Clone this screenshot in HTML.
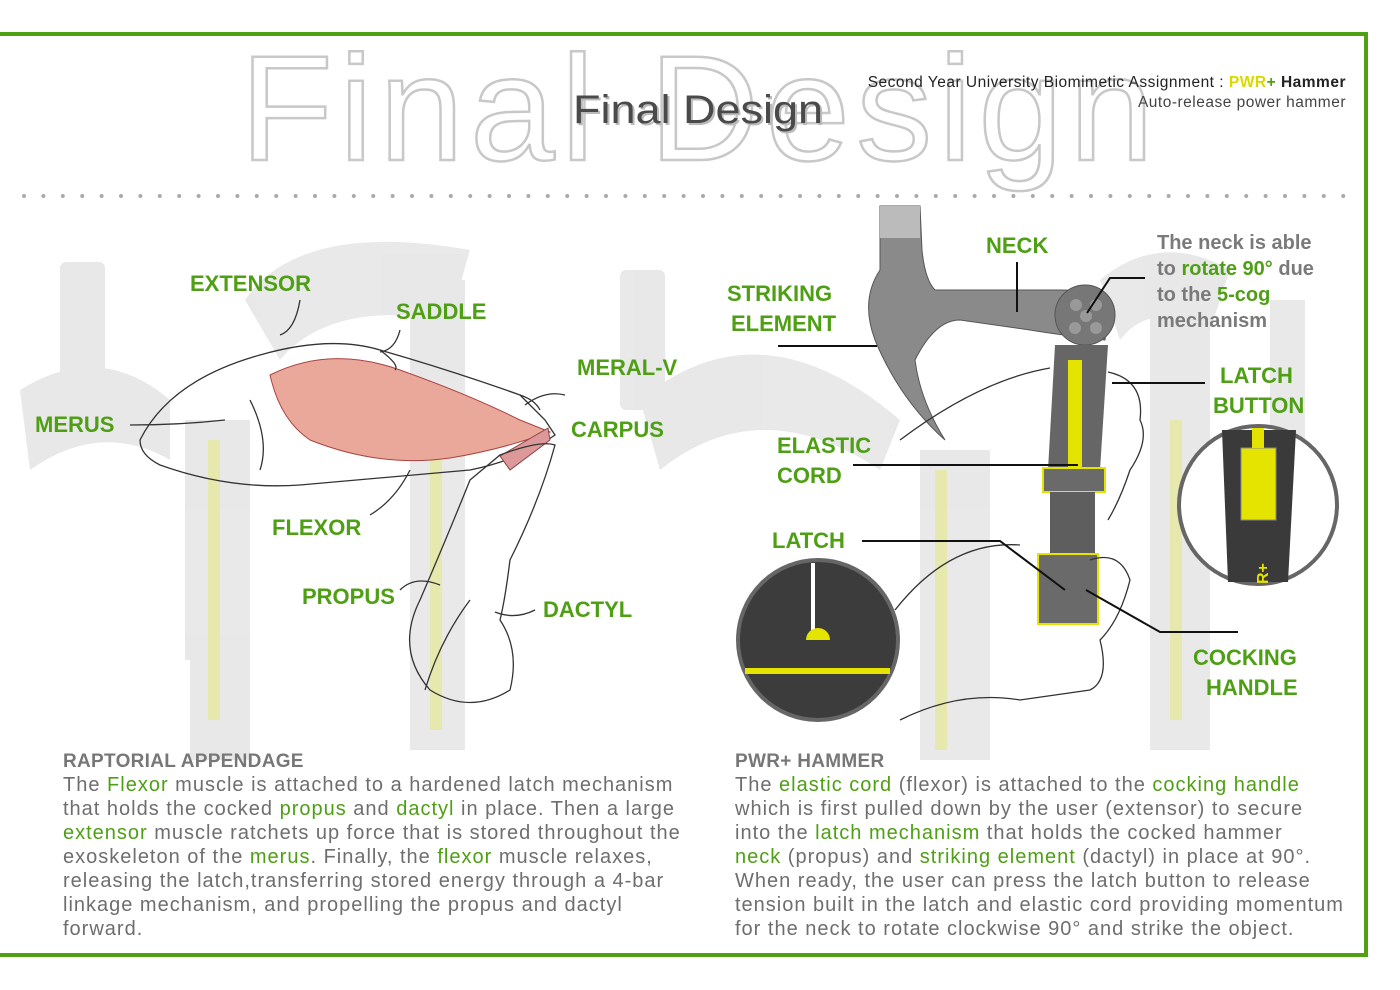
<!DOCTYPE html>
<html><head><meta charset="utf-8"><style>
html,body{margin:0;padding:0;background:#fff;width:1400px;height:990px;overflow:hidden}
svg{display:block}
.g{fill:#4e9f14;font-family:"Liberation Sans",sans-serif;font-weight:bold;font-size:22px}
.b{fill:#6e6e6e;font-family:"Liberation Sans",sans-serif;font-size:20px;letter-spacing:1px}
.b tspan.k{fill:#4e9f14}
.h{fill:#777;font-family:"Liberation Sans",sans-serif;font-weight:bold;font-size:19px;letter-spacing:0.3px}
.n{fill:#7a7a7a;font-family:"Liberation Sans",sans-serif;font-weight:bold;font-size:20px}
.n tspan.k{fill:#4e9f14}
.ln{stroke:#111;stroke-width:2;fill:none}
.sk{stroke:#333;stroke-width:1.3;fill:none}
</style></head><body>
<svg width="1400" height="990" viewBox="0 0 1400 990">
<g opacity="0.16" fill="#777">
<rect x="60" y="262" width="45" height="150" rx="6"/>
<path d="M20 390 Q100 340 170 400 L170 460 Q100 420 30 470Z"/>
<rect x="185" y="420" width="65" height="240"/>
<rect x="190" y="650" width="60" height="110"/>
<path d="M245 300 Q300 220 470 250 L450 320 Q330 300 280 360Z"/>
<rect x="410" y="280" width="55" height="470"/>
<rect x="620" y="270" width="45" height="140" rx="6"/>
<path d="M640 400 Q760 300 900 420 L880 470 Q760 390 660 470Z"/>
<rect x="920" y="450" width="70" height="310"/>
<path d="M1100 280 Q1160 230 1230 270 L1210 330 Q1150 300 1120 340Z"/>
<rect x="1150" y="300" width="60" height="450"/>
<rect x="1270" y="300" width="35" height="260"/>
</g>
<g opacity="0.25" fill="#e3e800">
<rect x="208" y="440" width="12" height="280"/>
<rect x="430" y="400" width="12" height="330"/>
<rect x="935" y="470" width="12" height="280"/>
<rect x="1170" y="420" width="12" height="300"/>
</g>
<path d="M0 34 H1366 V955 H0" fill="none" stroke="#4fa012" stroke-width="4"/>
<text x="240" y="160" font-family="Liberation Sans,sans-serif" font-size="150" fill="#fff" stroke="#c8c8c8" stroke-width="2.5" letter-spacing="6" textLength="920" lengthAdjust="spacingAndGlyphs">Final Design</text>
<text x="575" y="125" font-family="Liberation Sans,sans-serif" font-size="40" fill="#bbb" textLength="250" lengthAdjust="spacingAndGlyphs">Final Design</text>
<text x="573" y="123" font-family="Liberation Sans,sans-serif" font-size="40" fill="#4a4a4a" textLength="250" lengthAdjust="spacingAndGlyphs">Final Design</text>
<text x="1346" y="87" text-anchor="end" font-family="Liberation Sans,sans-serif" font-size="15.5" fill="#222" letter-spacing="0.5">Second Year University Biomimetic Assignment : <tspan font-weight="bold" fill="#d9d900">PWR</tspan><tspan font-weight="bold" fill="#4fa012">+</tspan><tspan font-weight="bold"> Hammer</tspan></text>
<text x="1346" y="107" text-anchor="end" font-family="Liberation Sans,sans-serif" font-size="15.5" fill="#444" letter-spacing="0.5">Auto-release power hammer</text>
<line x1="24" y1="196" x2="1346" y2="196" stroke="#aaa" stroke-width="4" stroke-linecap="round" stroke-dasharray="0 19.4"/>
<path class="sk" fill="#fff" d="M140 440 Q170 380 260 355 Q330 335 380 350 Q450 370 520 395 L545 420 L555 435 Q520 460 470 470 Q380 478 300 485 Q230 490 160 465 Q140 455 140 440Z"/>
<path d="M270 375 Q330 345 400 370 Q470 395 520 420 L550 432 Q500 450 450 458 Q380 468 310 440 Q280 420 270 375Z" fill="#e9a89a" stroke="#a44" stroke-width="1"/>
<path class="sk" d="M250 400 Q270 440 260 470 M380 350 Q400 365 395 370 M520 395 Q535 400 540 410"/>
<path d="M500 456 L548 428 L550 440 L510 470Z" fill="#d99" stroke="#844"/>
<path class="sk" fill="#fff" d="M500 455 Q540 440 555 445 Q540 500 510 560 Q505 600 500 620 Q520 650 510 690 Q470 715 430 690 Q395 650 420 600 Q450 530 470 480Z"/>
<path class="sk" d="M425 690 Q440 640 470 600 M300 300 Q295 330 280 335 M400 330 Q395 350 380 352 M565 395 Q545 390 525 405 M225 420 Q180 425 130 425 M410 470 Q395 500 370 515 M440 585 Q415 575 400 590 M535 610 Q515 620 495 612"/>
<path d="M880 206 L920 206 L922 250 Q925 280 935 290 L1060 290 Q1095 290 1110 300 L1105 340 Q1060 335 1030 330 L960 320 Q935 320 915 360 Q920 400 945 440 Q900 400 875 340 Q860 300 880 270Z" fill="#8a8a8a" stroke="#555"/>
<path d="M880 206 H920 V238 H880Z" fill="#bbb"/>
<circle cx="1085" cy="315" r="30" fill="#777" stroke="#555"/>
<g fill="#999"><circle cx="1076" cy="305" r="6"/><circle cx="1096" cy="305" r="6"/><circle cx="1086" cy="316" r="6"/><circle cx="1075" cy="328" r="6"/><circle cx="1096" cy="328" r="6"/></g>
<path d="M1055 345 L1108 345 L1100 470 L1048 470Z" fill="#666"/>
<rect x="1068" y="360" width="14" height="110" fill="#e4e400"/>
<rect x="1043" y="468" width="62" height="24" fill="#6a6a6a" stroke="#e4e400" stroke-width="2"/>
<rect x="1050" y="492" width="45" height="62" fill="#5e5e5e"/>
<rect x="1038" y="554" width="60" height="70" fill="#6a6a6a" stroke="#e4e400" stroke-width="2"/>
<path class="sk" d="M900 440 Q980 380 1050 368 M1108 372 Q1145 380 1140 420 Q1150 440 1130 470 Q1120 500 1108 520 M1090 560 Q1120 550 1130 580 Q1120 620 1100 640 Q1110 680 1090 690 L1020 700 Q960 690 900 720 M895 610 Q950 540 1020 545"/>
<path class="ln" d="M778 346 H877 M1017 262 V312 M1145 278 L1110 278 L1087 313 M1112 383 H1205 M853 465 H1078 M862 541 L1000 541 L1065 590 M1086 590 L1160 632 L1238 632"/>
<circle cx="818" cy="640" r="80" fill="#3c3c3c" stroke="#666" stroke-width="4"/>
<rect x="745" y="668" width="145" height="6" fill="#e4e400"/>
<path d="M813 563 V630" stroke="#fff" stroke-width="4"/>
<path d="M806 640 A12 12 0 0 1 830 640Z" fill="#e4e400"/>
<circle cx="1258" cy="505" r="79" fill="#fff" stroke="#666" stroke-width="4"/>
<path d="M1222 430 L1296 430 L1288 582 L1228 582Z" fill="#3a3a3a"/>
<rect x="1241" y="448" width="35" height="72" fill="#e4e400" stroke="#888"/>
<rect x="1252" y="428" width="12" height="20" fill="#e4e400"/>
<text x="1250" y="578" font-family="Liberation Sans,sans-serif" font-weight="bold" font-size="16" fill="#e4e400" transform="rotate(-90 1262 572)">R+</text>
<text class="g" x="190" y="291">EXTENSOR</text>
<text class="g" x="396" y="319">SADDLE</text>
<text class="g" x="577" y="375">MERAL-V</text>
<text class="g" x="35" y="432">MERUS</text>
<text class="g" x="571" y="437">CARPUS</text>
<text class="g" x="272" y="535">FLEXOR</text>
<text class="g" x="302" y="604">PROPUS</text>
<text class="g" x="543" y="617">DACTYL</text>
<text class="g" x="986" y="253">NECK</text>
<text class="g" x="727" y="301">STRIKING</text>
<text class="g" x="731" y="331">ELEMENT</text>
<text class="g" x="1220" y="383">LATCH</text>
<text class="g" x="1213" y="413">BUTTON</text>
<text class="g" x="777" y="453">ELASTIC</text>
<text class="g" x="777" y="483">CORD</text>
<text class="g" x="772" y="548">LATCH</text>
<text class="g" x="1193" y="665">COCKING</text>
<text class="g" x="1206" y="695">HANDLE</text>
<text class="n" x="1157" y="249">The neck is able</text>
<text class="n" x="1157" y="275">to <tspan class="k">rotate 90°</tspan> due</text>
<text class="n" x="1157" y="301">to the <tspan class="k">5-cog</tspan></text>
<text class="n" x="1157" y="327">mechanism</text>
<text class="h" x="63" y="767">RAPTORIAL APPENDAGE</text>
<text class="b" x="63" y="791">The <tspan class="k">Flexor</tspan> muscle is attached to a hardened latch mechanism</text>
<text class="b" x="63" y="815">that holds the cocked <tspan class="k">propus</tspan> and <tspan class="k">dactyl</tspan> in place. Then a large</text>
<text class="b" x="63" y="839"><tspan class="k">extensor</tspan> muscle ratchets up force that is stored throughout the</text>
<text class="b" x="63" y="863">exoskeleton of the <tspan class="k">merus</tspan>. Finally, the <tspan class="k">flexor</tspan> muscle relaxes,</text>
<text class="b" x="63" y="887">releasing the latch,transferring stored energy through a 4-bar</text>
<text class="b" x="63" y="911">linkage mechanism, and propelling the propus and dactyl</text>
<text class="b" x="63" y="935">forward.</text>
<text class="h" x="735" y="767">PWR+ HAMMER</text>
<text class="b" x="735" y="791">The <tspan class="k">elastic cord</tspan> (flexor) is attached to the <tspan class="k">cocking handle</tspan></text>
<text class="b" x="735" y="815">which is first pulled down by the user (extensor) to secure</text>
<text class="b" x="735" y="839">into the <tspan class="k">latch mechanism</tspan> that holds the cocked hammer</text>
<text class="b" x="735" y="863"><tspan class="k">neck</tspan> (propus) and <tspan class="k">striking element</tspan> (dactyl) in place at 90°.</text>
<text class="b" x="735" y="887">When ready, the user can press the latch button to release</text>
<text class="b" x="735" y="911">tension built in the latch and elastic cord providing momentum</text>
<text class="b" x="735" y="935">for the neck to rotate clockwise 90° and strike the object.</text>
</svg>
</body></html>
